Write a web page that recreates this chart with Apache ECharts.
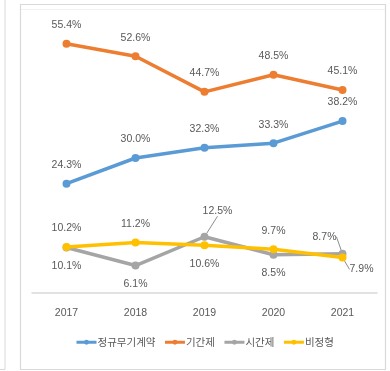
<!DOCTYPE html>
<html>
<head>
<meta charset="utf-8">
<script src="https://cdn.jsdelivr.net/npm/echarts@6/dist/echarts.min.js"></script>
<style>
  html, body { margin: 0; padding: 0; background: #ffffff; }
  #chart { width: 390px; height: 371px; }
</style>
</head>
<body>
<div id="chart"></div>
<script>
// Employment type shares by year (%)
const years = ['2017', '2018', '2019', '2020', '2021'];
const permanentContract = [24.3, 30.0, 32.3, 33.3, 38.2];   // 정규무기계약
const fixedTerm = [55.4, 52.6, 44.7, 48.5, 45.1];           // 기간제
const partTime = [10.1, 6.1, 12.5, 8.5, 8.7];               // 시간제
const atypical = [10.2, 11.2, 10.6, 9.7, 7.9];              // 비정형
const seriesNames = ['정규무기계약', '기간제', '시간제', '비정형'];

const colors = ['#5B9BD5', '#ED7D31', '#A5A5A5', '#FFC000'];
const numFont = "'Liberation Sans Narrow', 'Liberation Sans', Arial, sans-serif";
const labelColor = '#595959';

const chart = echarts.init(document.getElementById('chart'));

function baseLabel(pos) {
  return {
    show: true,
    position: pos,
    distance: 9,
    color: labelColor,
    fontFamily: numFont,
    fontSize: 10.5,
    formatter: p => p.value.toFixed(1) + '%'
  };
}

function lineSeries(idx, values, labelPos, special) {
  return {
    name: seriesNames[idx],
    type: 'line',
    data: values.map((v, i) => {
      const item = { value: v };
      if (labelPos[i] !== 'top' && labelPos[i] !== 'bottom') {
        item.label = { position: 'inside' };
        item.labelLine = { show: true };
      } else if (labelPos[i] !== labelPos.base) {
        item.label = { position: labelPos[i] };
      }
      return item;
    }),
    symbol: 'circle',
    symbolSize: 8,
    lineStyle: { width: 3.5, color: colors[idx] },
    itemStyle: { color: colors[idx] },
    label: baseLabel(labelPos.base),
    labelLine: {
      show: false,
      lineStyle: { color: '#8c8c8c', width: 1 }
    },
    labelLayout: special ? function (params) {
      const o = special[params.dataIndex];
      return o ? { dx: o[0], dy: o[1] } : {};
    } : undefined,
    emphasis: { disabled: true },
    z: 2 + idx
  };
}

const bluePos = ['top', 'top', 'top', 'top', 'top']; bluePos.base = 'top';
const orangePos = ['top', 'top', 'top', 'top', 'top']; orangePos.base = 'top';
const grayPos = ['bottom', 'bottom', 'side', 'bottom', 'side']; grayPos.base = 'bottom';
const yellowPos = ['top', 'top', 'bottom', 'top', 'side']; yellowPos.base = 'top';

chart.setOption({
  animation: false,
  backgroundColor: '#ffffff',
  color: colors,
  grid: { left: 32, right: 13, top: 23, bottom: 78 },
  xAxis: {
    type: 'category',
    data: years,
    boundaryGap: true,
    axisLine: { lineStyle: { color: '#D9D9D9', width: 1.5 } },
    axisTick: { show: false },
    axisLabel: {
      color: labelColor,
      fontFamily: numFont,
      fontSize: 10.5,
      margin: 15
    }
  },
  yAxis: {
    type: 'value',
    min: 0,
    max: 60,
    show: false,
    splitLine: { show: false }
  },
  legend: {
    data: seriesNames,
    left: 75,
    top: 337,
    padding: 0,
    itemWidth: 20,
    itemHeight: 6,
    itemGap: 8,
    lineStyle: { width: 3 },
    textStyle: {
      color: labelColor,
      fontFamily: "'Noto Sans CJK KR', sans-serif",
      fontSize: 10.5,
      padding: [0, 0, 0, -4]
    }
  },
  graphic: [
    // neighbouring panel edge
    { type: 'line', shape: { x1: 5, y1: 0, x2: 5, y2: 369.5 }, style: { stroke: '#D9D9D9', lineWidth: 1 }, silent: true },
    { type: 'line', shape: { x1: 0, y1: 369.5, x2: 5, y2: 369.5 }, style: { stroke: '#D9D9D9', lineWidth: 1 }, silent: true },
    // chart area border
    { type: 'rect', shape: { x: 20.5, y: 4.5, width: 365, height: 365 }, style: { fill: 'none', stroke: '#D9D9D9', lineWidth: 1.2 }, silent: true },
    { type: 'line', shape: { x1: 21, y1: 9.5, x2: 385, y2: 9.5 }, style: { stroke: '#F2F2F2', lineWidth: 1 }, silent: true }
  ],
  series: [
    lineSeries(0, permanentContract, bluePos),
    lineSeries(1, fixedTerm, orangePos),
    lineSeries(2, partTime, grayPos, { 2: [13, -26], 4: [-18, -17] }),
    lineSeries(3, atypical, yellowPos, { 4: [19, 12] })
  ]
});
</script>
</body>
</html>
